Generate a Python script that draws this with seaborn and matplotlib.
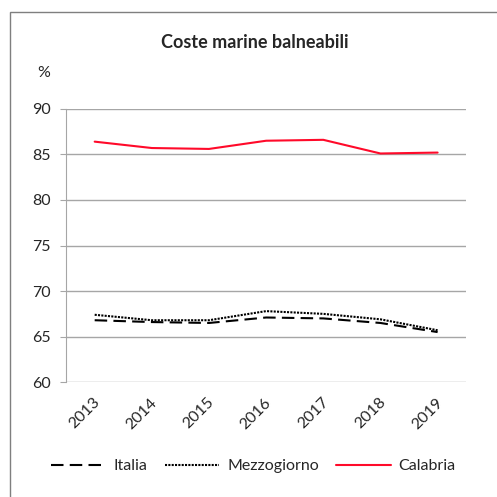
import matplotlib
matplotlib.use("Agg")
import matplotlib.pyplot as plt
import matplotlib.transforms as mtransforms
import seaborn as sns
import pandas as pd
from matplotlib.patches import Rectangle
from matplotlib.lines import Line2D

years = ["2013", "2014", "2015", "2016", "2017", "2018", "2019"]
italia = [66.8, 66.6, 66.5, 67.1, 67.0, 66.5, 65.5]
mezzogiorno = [67.4, 66.8, 66.8, 67.8, 67.5, 66.9, 65.7]
calabria = [86.4, 85.7, 85.6, 86.5, 86.6, 85.1, 85.2]

df = pd.DataFrame({"anno": years, "Italia": italia,
                   "Mezzogiorno": mezzogiorno, "Calabria": calabria})
long = df.melt(id_vars="anno", var_name="serie", value_name="valore")

sns.set_style("white")
plt.rcParams["font.family"] = ["Lato", "DejaVu Sans"]

fig = plt.figure(figsize=(4.97, 4.97), dpi=100)
ax = fig.add_axes([0.133, 0.231, 0.805, 0.55])

sns.lineplot(data=long, x="anno", y="valore", hue="serie", style="serie",
             palette={"Italia": "black", "Mezzogiorno": "black", "Calabria": "#ff0a2a"},
             dashes={"Italia": (6, 3), "Mezzogiorno": (1, 0.6), "Calabria": ""},
             linewidth=1.5, ax=ax, legend=False)

ax.set_ylim(60, 90)
ax.set_yticks([60, 65, 70, 75, 80, 85, 90])
ax.set_xlim(-0.5, 6.5)
ax.yaxis.grid(True, color="#a6a6a6", linewidth=1)
ax.set_axisbelow(True)
for s in ["top", "right", "bottom"]:
    ax.spines[s].set_visible(False)
ax.spines["left"].set_color("#a6a6a6")
ax.tick_params(axis="y", length=4, color="#a6a6a6", labelsize=11.5, pad=7, left=True)
ax.tick_params(axis="x", length=0, labelsize=11.5, pad=13)
offset = mtransforms.ScaledTranslation(3 / 100, 0, fig.dpi_scale_trans)
for lab in ax.get_xticklabels():
    lab.set_rotation(45)
    lab.set_ha("right")
    lab.set_va("center")
    lab.set_rotation_mode("anchor")
    lab.set_transform(lab.get_transform() + offset)
ax.set_xlabel("")
ax.set_ylabel("")

fig.text(0.087, 0.853, "%", fontsize=11.5, ha="center", va="center")
fig.text(0.513, 0.915, "Coste marine balneabili", fontsize=13,
         fontweight="bold", ha="center", va="center")

handles = [Line2D([], [], color="black", linestyle=(0, (6, 3)), linewidth=1.5),
           Line2D([], [], color="black", linestyle=(0, (1, 0.6)), linewidth=1.5),
           Line2D([], [], color="#ff0a2a", linewidth=1.5)]
fig.legend(handles, ["Italia", "Mezzogiorno", "Calabria"], loc="center",
           bbox_to_anchor=(0.51, 0.062), ncol=3, frameon=False, fontsize=11.5,
           handlelength=3.4, columnspacing=1.1, handletextpad=0.5)

fig.add_artist(Rectangle((0.02, -0.1), 1.2, 1.075, transform=fig.transFigure,
                         fill=False, edgecolor="#7f7f7f", linewidth=1))

fig.savefig("out.png", dpi=100)
